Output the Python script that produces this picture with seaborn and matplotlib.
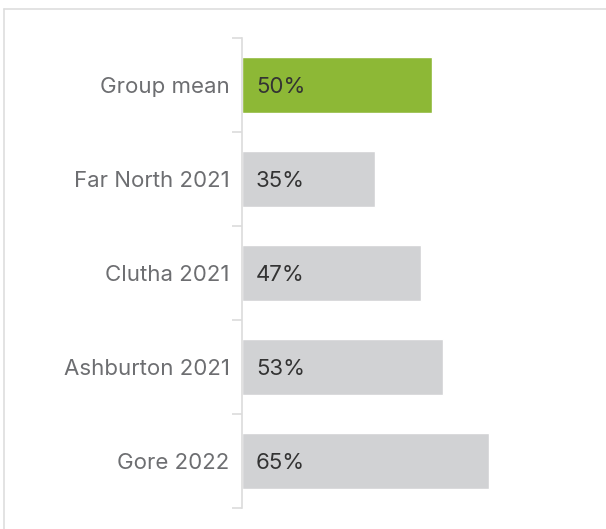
import matplotlib
matplotlib.use("Agg")
import matplotlib.pyplot as plt
import seaborn as sns
import pandas as pd
import numpy as np
from matplotlib.lines import Line2D

categories = ["Group mean", "Far North 2021", "Clutha 2021", "Ashburton 2021", "Gore 2022"]
values = [50, 35, 47, 53, 65]
labels = ["50%", "35%", "47%", "53%", "65%"]
colors = ["#8db836", "#d1d2d4", "#d1d2d4", "#d1d2d4", "#d1d2d4"]

sns.set_theme(style="white")
plt.rcParams['font.family'] = ['Inter', 'DejaVu Sans']

df = pd.DataFrame({"cat": categories, "val": values})

fig = plt.figure(figsize=(6.06, 5.29), dpi=100)
W, H = 606, 529
ax = fig.add_axes([242 / W, 1 - 508 / H, (W - 242) / W, (508 - 38) / H])

sns.barplot(data=df, y="cat", x="val", hue="cat", palette=colors, legend=False,
            orient="h", width=0.6, saturation=1, ax=ax)

ax.set_xlim(0, (W - 242) / 3.8)
ax.set_ylim(len(categories) - 0.5, -0.5)
ax.set_xlabel("")
ax.set_ylabel("")
ax.set_xticks([])

for s in ["top", "right", "bottom"]:
    ax.spines[s].set_visible(False)
ax.spines["left"].set_color("#dcdcdc")
ax.spines["left"].set_linewidth(1.2)

ax.set_yticks(range(len(categories)))
ax.set_yticklabels(categories, fontsize=16, color="#6d6e71", va="center_baseline")
ax.tick_params(axis="y", which="major", left=True, length=0, pad=9)
ax.set_yticks(np.arange(-0.5, len(categories), 1), minor=True)
ax.tick_params(axis="y", which="minor", left=True, length=7, width=1.2, color="#dcdcdc")

for i, (v, lab) in enumerate(zip(values, labels)):
    ax.text(14 / 3.8, i, lab, va="center_baseline", ha="left", fontsize=16, color="#333333")

# outer frame
fig.add_artist(Line2D([4 / W, 1], [1 - 9 / H, 1 - 9 / H], transform=fig.transFigure,
                      color="#dedede", lw=1.2))
fig.add_artist(Line2D([4 / W, 4 / W], [0, 1 - 9 / H], transform=fig.transFigure,
                      color="#dedede", lw=1.2))

fig.savefig("out.png", dpi=100)
